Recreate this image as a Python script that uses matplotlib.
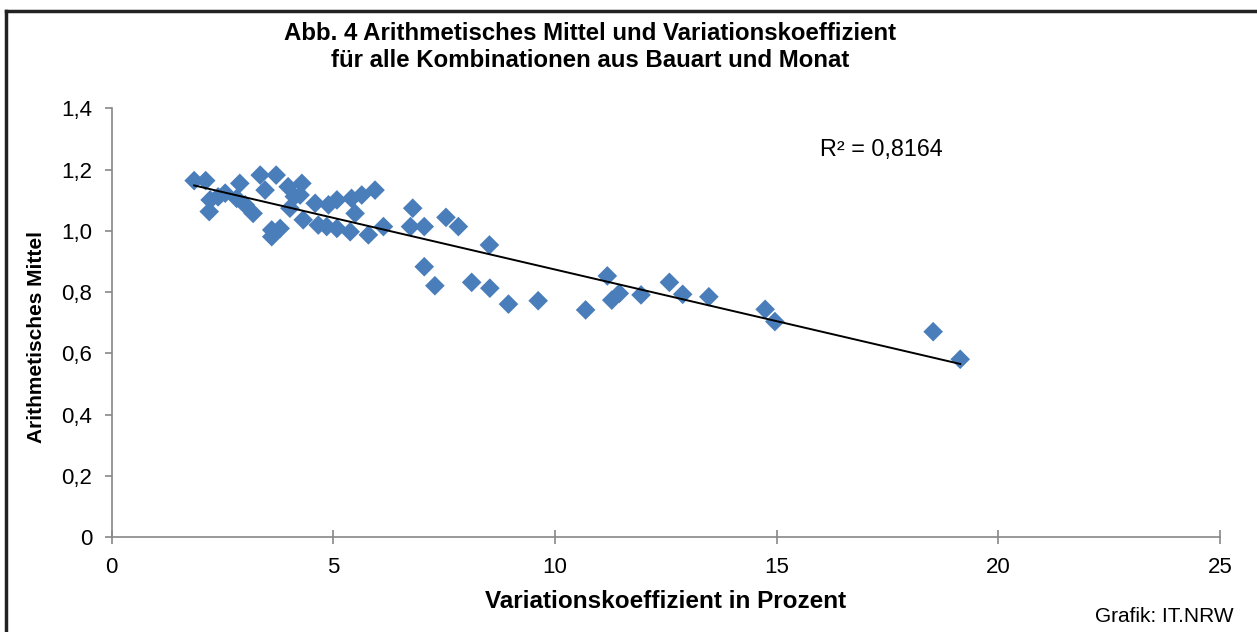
import numpy as np
import matplotlib
matplotlib.use("Agg")
import matplotlib.pyplot as plt
from matplotlib.lines import Line2D

plt.rcParams['font.family'] = ['Liberation Sans', 'DejaVu Sans']

# Variationskoeffizient (%) und arithmetisches Mittel je Kombination
vk = [1.86, 2.12, 2.22, 2.20, 2.56, 2.89, 2.82, 3.01, 3.19, 3.35,
      3.71, 3.46, 3.61, 3.80, 3.61, 3.98, 4.29, 4.25, 4.02, 4.32,
      4.59, 4.66, 4.85, 5.08, 4.89, 5.08, 5.38, 5.41, 5.49, 5.64,
      5.94, 5.79, 6.13, 6.79, 6.74, 7.05, 7.05, 7.29, 7.54, 7.82,
      8.12, 8.52, 8.53, 8.95, 9.62, 10.69, 11.18, 11.28, 11.45, 11.94,
      12.58, 12.88, 13.47, 14.74, 14.96, 18.53, 19.14, 2.40, 4.12]
mittel = [1.164, 1.164, 1.101, 1.063, 1.123, 1.155, 1.106, 1.085, 1.057, 1.182,
          1.182, 1.133, 1.003, 1.008, 0.981, 1.144, 1.155, 1.117, 1.074, 1.036,
          1.090, 1.019, 1.014, 1.101, 1.085, 1.008, 0.997, 1.106, 1.057, 1.117,
          1.133, 0.987, 1.014, 1.074, 1.014, 1.014, 0.883, 0.821, 1.044, 1.014,
          0.832, 0.954, 0.813, 0.761, 0.772, 0.742, 0.853, 0.774, 0.796, 0.791,
          0.832, 0.793, 0.785, 0.744, 0.704, 0.671, 0.581, 1.111, 1.112]

x_ticks = [0, 5, 10, 15, 20, 25]
y_ticks = [0, 0.2, 0.4, 0.6, 0.8, 1.0, 1.2, 1.4]
y_labels = ["0", "0,2", "0,4", "0,6", "0,8", "1,0", "1,2", "1,4"]
r2_text = "R² = 0,8164"

fig = plt.figure(figsize=(12.57, 6.32), dpi=100)
ax = fig.add_axes([111.7 / 1257, 1 - 537.3 / 632, (1220 - 111.7) / 1257, (537.3 - 108.3) / 632])

x = np.array(vk)
y = np.array(mittel)
ax.scatter(x, y, marker='D', s=100, color='#4A7EBB', edgecolors='none', zorder=2)

# lineare Trendlinie
m, b = np.polyfit(x, y, 1)
xl = np.array([x.min(), x.max()])
ax.plot(xl, m * xl + b, color='black', lw=1.4, zorder=3)

ax.set_xlim(0, 25)
ax.set_ylim(0, 1.4)
ax.set_xticks(x_ticks)
ax.set_yticks(y_ticks)
ax.set_yticklabels(y_labels)
ax.tick_params(axis='both', labelsize=16, color='#888888', length=5, width=1.2)
ax.tick_params(axis='y', pad=9)
ax.tick_params(axis='x', direction='inout', length=10, pad=9)
for s in ['top', 'right']:
    ax.spines[s].set_visible(False)
for s in ['left', 'bottom']:
    ax.spines[s].set_color('#888888')
    ax.spines[s].set_linewidth(1.2)

ax.set_xlabel("Variationskoeffizient in Prozent", fontsize=17.5, fontweight='bold', labelpad=9)
ax.set_ylabel("Arithmetisches Mittel", fontsize=15, fontweight='bold')
ax.yaxis.set_label_coords(-0.059, 0.467)

fig.text(590 / 1257, 1 - 47 / 632,
         "Abb. 4 Arithmetisches Mittel und Variationskoeffizient\nfür alle Kombinationen aus Bauart und Monat",
         ha='center', va='center', fontsize=17.3, fontweight='bold', linespacing=1.2)
ax.text(820 / 1257, 1 - 150 / 632, r2_text, transform=fig.transFigure,
        fontsize=16.8, ha='left', va='center')
fig.text(1234 / 1257, 1 - 617 / 632, "Grafik: IT.NRW", fontsize=15, ha='right', va='center')

# Rahmen oben und links
fig.add_artist(Line2D([6 / 1257, 1], [1 - 11 / 632, 1 - 11 / 632], color='#222222', lw=2.5))
fig.add_artist(Line2D([6 / 1257, 6 / 1257], [0, 1 - 11 / 632], color='#222222', lw=2.5))

fig.savefig("out.png", dpi=100, facecolor='white')
